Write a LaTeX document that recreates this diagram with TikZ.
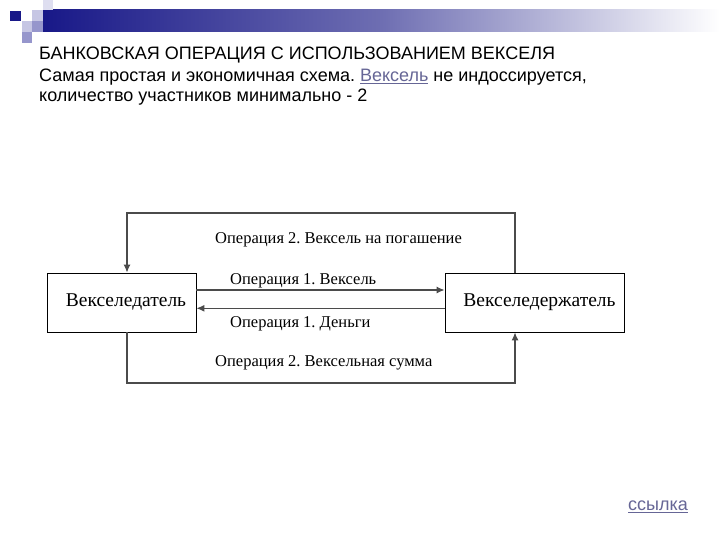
\documentclass[tikz,border=0pt]{standalone}
\usepackage{fontspec}
\setmainfont{Liberation Serif}
\newfontfamily\arialf{Liberation Sans}
\usetikzlibrary{arrows.meta}
\definecolor{navy}{RGB}{24,24,136}
\definecolor{barmid}{RGB}{110,110,178}
\definecolor{lavl}{RGB}{222,222,240}
\definecolor{lav}{RGB}{198,198,228}
\definecolor{lavm}{RGB}{150,150,204}
\definecolor{linkc}{RGB}{102,102,150}
\definecolor{linec}{RGB}{75,75,75}
\newcommand\lnk[1]{{\color{linkc}\underline{#1}}}
\frenchspacing
\begin{document}
\frenchspacing
\begin{tikzpicture}[x=1pt,y=-1pt,
  hdr/.style={font=\arialf\fontsize{18}{21}\selectfont, inner sep=0pt, anchor=base west},
  party/.style={draw=black, line width=0.9pt, minimum height=59pt, inner sep=0pt,
    font=\fontsize{19.5}{22}\selectfont},
  oplabel/.style={font=\fontsize{16.5}{19}\selectfont, inner sep=0pt, anchor=west},
  flow/.style={draw=linec, line width=1.1pt, -{Latex[length=8pt,width=7pt]}},
  plain/.style={draw=linec, line width=1.1pt}]
\useasboundingbox (0,0) rectangle (720,540);
\fill[white] (0,0) rectangle (720,540);
% header decoration
\shade[left color=navy, right color=white, middle color=barmid] (43,10) rectangle (720,32);
\fill[navy] (10,11) rectangle (21,21);
\fill[lavl] (43,0) rectangle (53,10);
\fill[lav] (32,10) rectangle (43,21);
\fill[lav] (22,21) rectangle (32,32);
\fill[lavm] (32,21) rectangle (43,32);
\fill[lavm] (22,32) rectangle (32,43);
% header text
\node[hdr] (t1) at (39,60) {БАНКОВСКАЯ ОПЕРАЦИЯ С ИСПОЛЬЗОВАНИЕМ ВЕКСЕЛЯ};
\node[hdr] (t2) at (39,81.5) {Самая простая и экономичная схема. \lnk{Вексель} не индоссируется,};
\node[hdr] (t3) at (39,102) {количество участников минимально - 2};
% parties
\node[party, minimum width=149pt] (drawer) at (121.5,302.5) {\hspace*{9pt}Векселедатель};
\node[party, minimum width=179pt] (holder) at (534.5,302.5) {\hspace*{10pt}Векселедержатель};
% loop coordinates
\coordinate (tl) at (127,213);
\coordinate (tr) at (515,213);
\coordinate (bl) at (127,383);
\coordinate (br) at (515,383);
% operation 2 loops
\draw[flow] (tr |- holder.north) -- (tr) -- (tl) -- (tl |- drawer.north);
\draw[flow] (bl |- drawer.south) -- (bl) -- (br) -- (br |- holder.south);
% operation 1 arrows
\draw[flow] ([yshift=12.5pt]drawer.east) -- ([yshift=12.5pt]holder.west);
\draw[flow] ([yshift=-5.8pt]holder.west) -- ([yshift=-5.8pt]drawer.east);
% labels
\node[oplabel] (l1) at (215,240) {Операция 2. Вексель на погашение};
\node[oplabel] (l2) at (230,281) {Операция 1. Вексель};
\node[oplabel] (l3) at (230,324) {Операция 1. Деньги};
\node[oplabel] (l4) at (215,362.5) {Операция 2. Вексельная сумма};
% link
\node[hdr, anchor=west] (ref) at (628,507) {\lnk{ссылка}};
\end{tikzpicture}
\end{document}
